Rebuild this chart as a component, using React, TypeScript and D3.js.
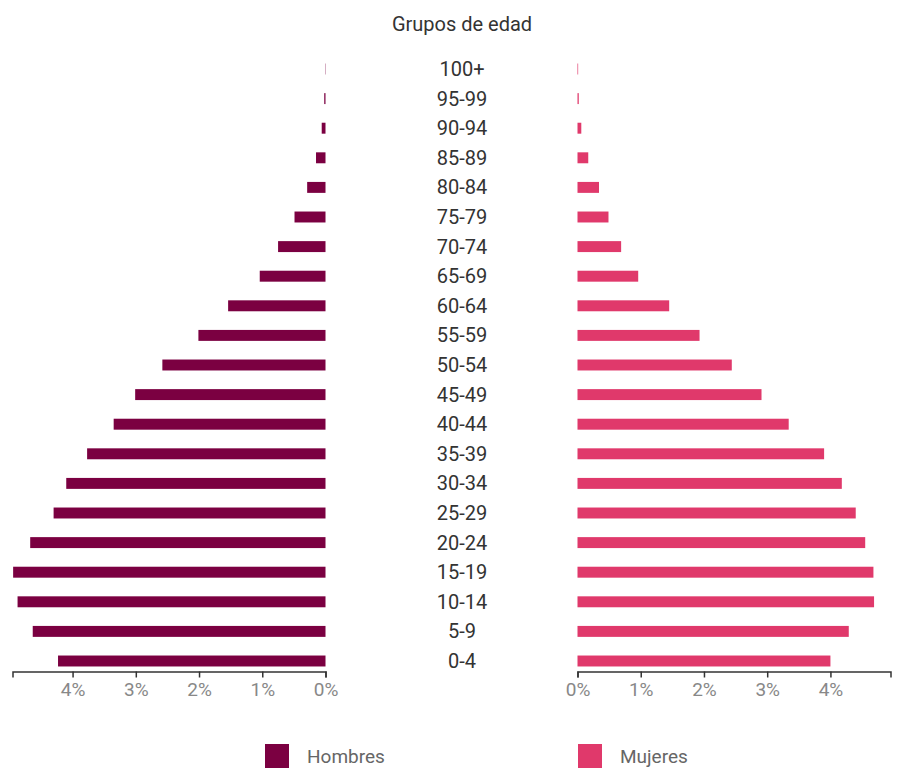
import React, { useEffect, useRef } from "react";
import * as d3 from "d3";

const ageGroups = ["0-4","5-9","10-14","15-19","20-24","25-29","30-34","35-39","40-44","45-49","50-54","55-59","60-64","65-69","70-74","75-79","80-84","85-89","90-94","95-99","100+"];
const hombres = [4.23,4.63,4.87,4.94,4.67,4.30,4.10,3.77,3.35,3.01,2.58,2.01,1.54,1.04,0.75,0.49,0.29,0.15,0.06,0.02,0.005];
const mujeres = [4.00,4.29,4.69,4.68,4.55,4.40,4.18,3.90,3.34,2.91,2.44,1.93,1.45,0.96,0.69,0.49,0.34,0.17,0.06,0.02,0.01];
const tickValues = [0,1,2,3,4];
const title = "Grupos de edad";
const seriesNames = ["Hombres","Mujeres"];
const colors = ["#7b0041","#e0396b"];

export default function App() {
  const ref = useRef<SVGSVGElement>(null);
  useEffect(() => {
    const svg = d3.select(ref.current);
    svg.selectAll("*").remove();
    const font = "Roboto, 'Noto Sans', sans-serif";
    const maxV = 4.95;
    const xL = d3.scaleLinear().domain([0, maxV]).range([325.5, 12.5]);
    const xR = d3.scaleLinear().domain([0, maxV]).range([577.5, 890.5]);
    const y = d3.scaleBand<string>()
      .domain([...ageGroups].reverse())
      .range([54.2, 675.8])
      .paddingInner(0.63)
      .paddingOuter(0.315);
    const centerX = 462;

    svg.append("text").attr("x", centerX).attr("y", 31).attr("text-anchor", "middle")
      .attr("font-family", font).attr("font-size", 20).attr("fill", "#333").text(title);

    const data = ageGroups.map((a, i) => ({ a, h: hombres[i], m: mujeres[i] }));

    svg.append("g").selectAll("rect").data(data).join("rect")
      .attr("x", d => xL(d.h)).attr("width", d => xL(0) - xL(d.h))
      .attr("y", d => y(d.a)!).attr("height", y.bandwidth()).attr("fill", colors[0]);
    svg.append("g").selectAll("rect").data(data).join("rect")
      .attr("x", xR(0)).attr("width", d => xR(d.m) - xR(0))
      .attr("y", d => y(d.a)!).attr("height", y.bandwidth()).attr("fill", colors[1]);

    svg.append("g").selectAll("text").data(data).join("text")
      .attr("x", centerX).attr("y", d => y(d.a)! + y.bandwidth() / 2)
      .attr("dy", "0.35em").attr("text-anchor", "middle")
      .attr("font-family", font).attr("font-size", 20).attr("fill", "#333")
      .text(d => d.a);

    const axisY = 671.5;
    const styleAxis = (g: any) => {
      g.selectAll("path,line").attr("stroke", "#333").attr("stroke-width", 1.5);
      g.selectAll("text").attr("font-family", font).attr("font-size", 19).attr("fill", "#888");
    };
    svg.append("g").attr("transform", `translate(0,${axisY})`)
      .call(d3.axisBottom(xL).tickValues(tickValues).tickFormat(d => `${d}%`).tickSize(6).tickPadding(5))
      .call(styleAxis);
    svg.append("g").attr("transform", `translate(0,${axisY})`)
      .call(d3.axisBottom(xR).tickValues(tickValues).tickFormat(d => `${d}%`).tickSize(6).tickPadding(5))
      .call(styleAxis);

    const legendX = [265, 578];
    seriesNames.forEach((n, i) => {
      svg.append("rect").attr("x", legendX[i]).attr("y", 744).attr("width", 24).attr("height", 24).attr("fill", colors[i]);
      svg.append("text").attr("x", legendX[i] + 42).attr("y", 756).attr("dy", "0.35em")
        .attr("font-family", font).attr("font-size", 19).attr("fill", "#666").text(n);
    });
  }, []);
  return (
    <svg ref={ref} width={904} height={768}
      style={{ position: "absolute", left: 0, top: 0, display: "block", background: "#fff" }} />
  );
}
